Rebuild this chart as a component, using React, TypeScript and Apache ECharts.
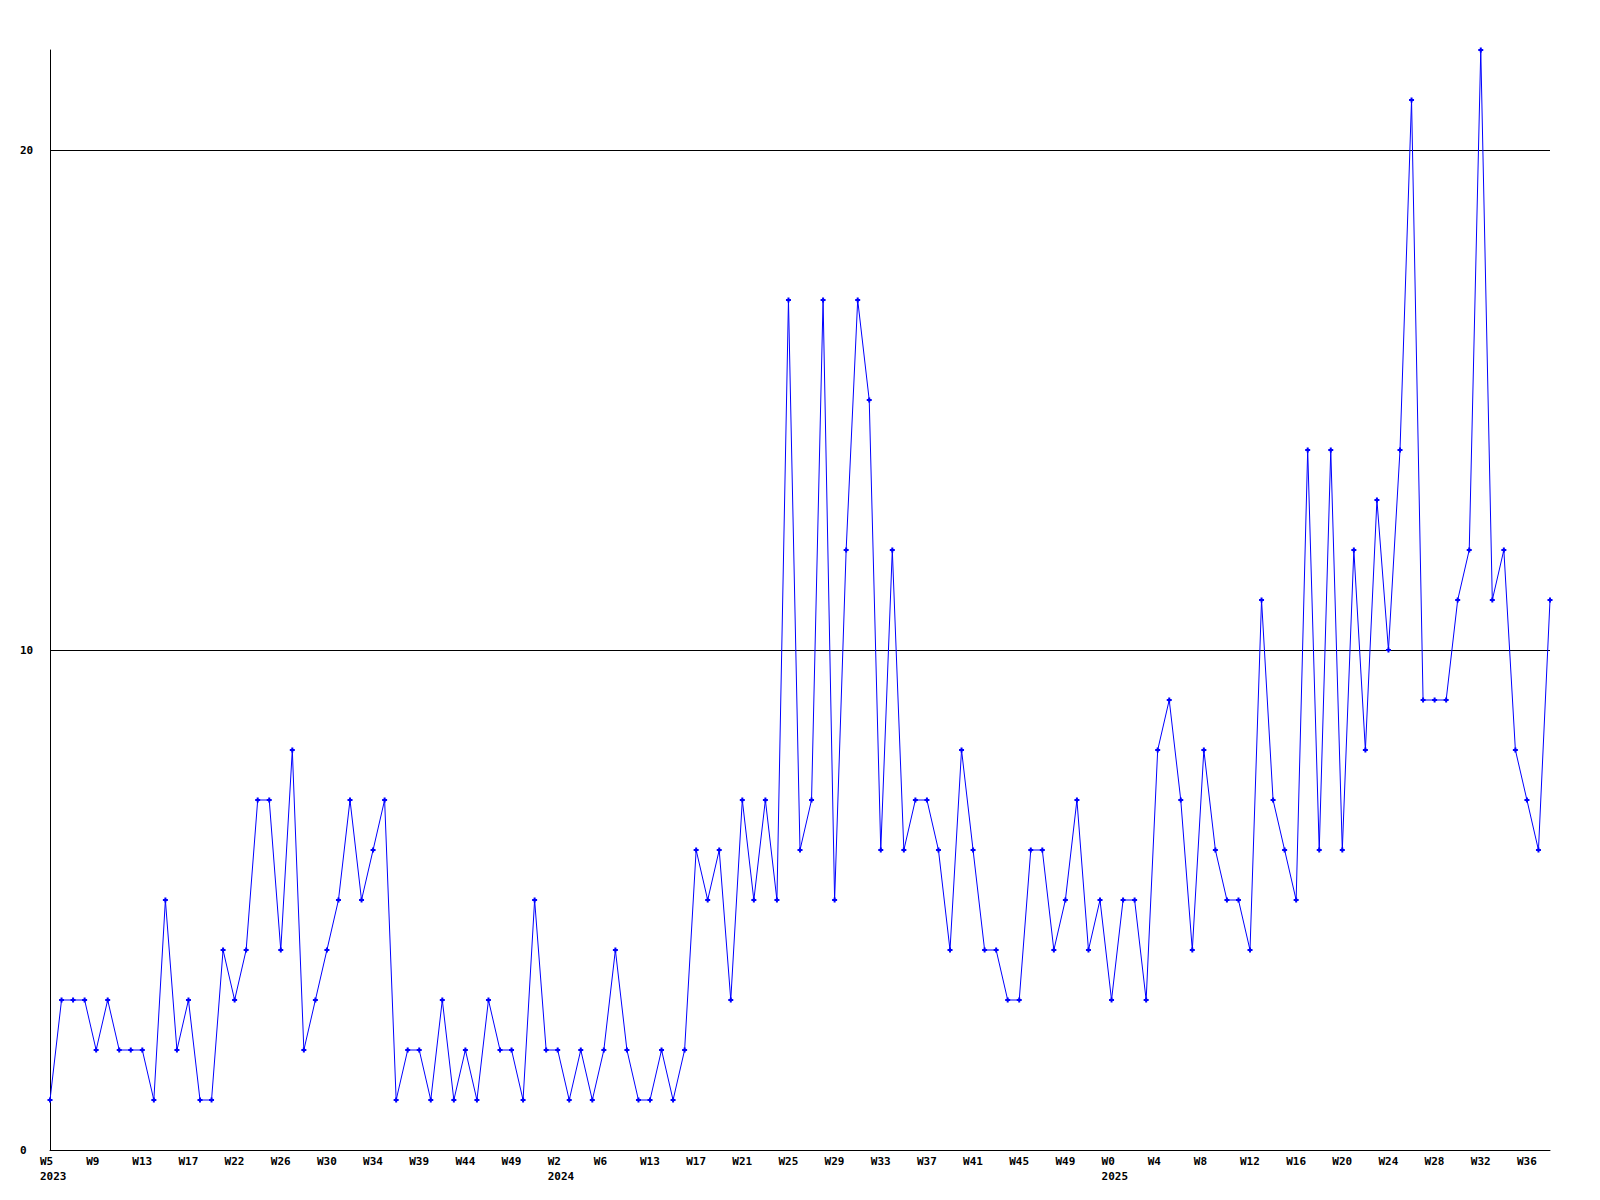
import React, { useEffect, useRef } from "react";
import * as echarts from "echarts";

// Weekly counts, one per data point (131 points)
const values: number[] = [
  1, 3, 3, 3, 2, 3, 2, 2, 2, 1,
  5, 2, 3, 1, 1, 4, 3, 4, 7, 7,
  4, 8, 2, 3, 4, 5, 7, 5, 6, 7,
  1, 2, 2, 1, 3, 1, 2, 1, 3, 2,
  2, 1, 5, 2, 2, 1, 2, 1, 2, 4,
  2, 1, 1, 2, 1, 2, 6, 5, 6, 3,
  7, 5, 7, 5, 17, 6, 7, 17, 5, 12,
  17, 15, 6, 12, 6, 7, 7, 6, 4, 8,
  6, 4, 4, 3, 3, 6, 6, 4, 5, 7,
  4, 5, 3, 5, 5, 3, 8, 9, 7, 4,
  8, 6, 5, 5, 4, 11, 7, 6, 5, 14,
  6, 14, 6, 12, 8, 13, 10, 14, 21, 9,
  9, 9, 11, 12, 22, 11, 12, 8, 7, 6,
  11,
];

// Tick labels, one every 4 data points
const tickLabels: string[] = [
  "W5", "W9", "W13", "W17", "W22", "W26", "W30", "W34", "W39", "W44", "W49",
  "W2", "W6", "W13", "W17", "W21", "W25", "W29", "W33", "W37", "W41", "W45", "W49",
  "W0", "W4", "W8", "W12", "W16", "W20", "W24", "W28", "W32", "W36",
];
const tickYears: string[] = [
  "2023", "", "", "", "", "", "", "", "", "", "",
  "2024", "", "", "", "", "", "", "", "", "", "", "",
  "2025", "", "", "", "", "", "", "", "", "",
];
const tickStep = 4;
const yTicks = { min: 0, max: 22, interval: 10 };

const categories: string[] = values.map((_, i) => {
  if (i % tickStep !== 0) return "";
  const k = i / tickStep;
  const lbl = tickLabels[k] ?? "";
  const yr = tickYears[k] ?? "";
  return yr ? `${lbl}\n${yr}` : lbl;
});

const FONT = "'DejaVu Sans Mono', 'Liberation Mono', monospace";

export default function App() {
  const ref = useRef<HTMLDivElement>(null);
  useEffect(() => {
    if (!ref.current) return;
    const chart = echarts.init(ref.current, null, { renderer: "svg" });
    chart.setOption({
      animation: false,
      backgroundColor: "#ffffff",
      grid: { left: 50, right: 50, top: 50, bottom: 50, containLabel: false },
      xAxis: {
        type: "category",
        data: categories,
        boundaryGap: false,
        axisLine: { show: true, lineStyle: { color: "#000000", width: 1 } },
        axisTick: { show: false },
        splitLine: { show: false },
        axisLabel: {
          interval: tickStep - 1,
          align: "left",
          verticalAlign: "top",
          margin: 4,
          padding: [0, 0, 0, -10],
          lineHeight: 15,
          fontFamily: FONT,
          fontWeight: "bold",
          fontSize: 11,
          color: "#000000",
        },
      },
      yAxis: {
        type: "value",
        min: yTicks.min,
        max: yTicks.max,
        interval: yTicks.interval,
        axisLine: { show: true, lineStyle: { color: "#000000", width: 1 } },
        axisTick: { show: false },
        splitLine: {
          show: true,
          showMinLine: false,
          showMaxLine: false,
          lineStyle: { color: "#000000", width: 1 },
        },
        axisLabel: {
          showMaxLabel: false,
          align: "left",
          margin: 30,
          fontFamily: FONT,
          fontWeight: "bold",
          fontSize: 11,
          color: "#000000",
        },
      },
      series: [
        {
          type: "line",
          data: values,
          symbol: "path://M1.5,0H3.5V1.5H5V3.5H3.5V5H1.5V3.5H0V1.5H1.5Z",
          symbolSize: 5,
          showAllSymbol: true,
          lineStyle: { color: "#0000ff", width: 1 },
          itemStyle: { color: "#0000ff" },
        },
      ],
    });
    return () => chart.dispose();
  }, []);
  return (
    <div
      ref={ref}
      style={{ position: "absolute", left: 0, top: 0, width: 1600, height: 1200 }}
    />
  );
}
